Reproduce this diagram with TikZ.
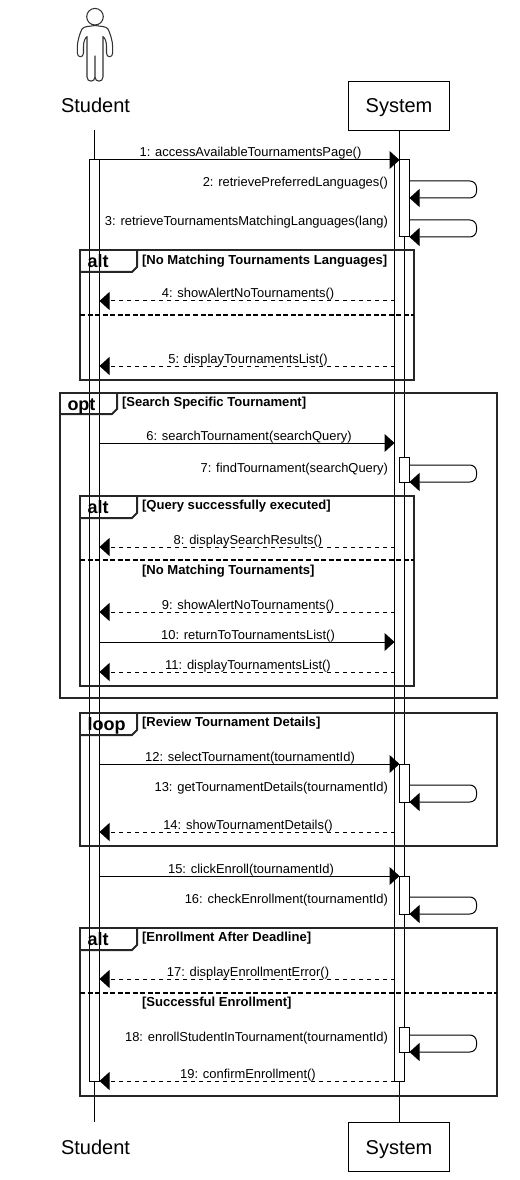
\documentclass[tikz,border=0pt]{standalone}
\usepackage{fontspec}
\setmainfont{Liberation Sans}
\usetikzlibrary{arrows.meta}
\tikzset{
  x=0.75pt,y=-0.75pt,
  every node/.style={inner sep=0pt,outer sep=0pt},
  life/.style={draw=black,line width=0.75pt},
  bar/.style={draw=black,fill=white,line width=0.75pt},
  actorbox/.style={draw=black,line width=0.75pt,fill=white,minimum width=75.75pt,minimum height=36.75pt,text height=14pt,text depth=3.2pt,font=\fontsize{15}{18}\selectfont},
  actorname/.style={font=\fontsize{15}{18}\selectfont},
  msgtext/.style={font=\fontsize{9.7}{12}\selectfont,anchor=base},
  selftext/.style={font=\fontsize{9.7}{12}\selectfont,anchor=base east},
  tip/.style={-{Triangle[length=7.5pt,width=13.5pt]}},
  msg/.style={draw=black,line width=0.75pt,tip},
  ret/.style={draw=black,line width=0.75pt,dash pattern=on 3pt off 3pt,tip},
  selfmsg/.style={draw=black,line width=0.75pt,tip,rounded corners=5pt},
  frame/.style={draw=black!85,line width=1.5pt},
  divider/.style={draw=black,line width=1.5pt,dash pattern=on 3.75pt off 1.9pt},
  tabtext/.style={font=\bfseries\fontsize{13.5}{15}\selectfont,anchor=base west},
  condtext/.style={font=\bfseries\fontsize{9.8}{12}\selectfont,anchor=base west}
}
\begin{document}
\begin{tikzpicture}
\useasboundingbox (0,0) rectangle (520,1180);
% lifelines
\node[actorname] (studentTop) at (95.5,105) {Student};
\node[actorbox] (systemTop) at (399,105.8) {System};
\node[actorname] (studentBot) at (95.5,1147) {Student};
\node[actorbox] (systemBot) at (399,1146.8) {System};
\coordinate (studentStart) at (94.5,130);
\coordinate (studentEnd) at (94.5,1122);
\draw[life] (studentStart) -- (studentEnd);
\draw[life] (systemTop) -- (systemBot);
% actor figure
\draw[draw=black!80,line width=0.8pt] (95,16.7) circle (8.3);
\draw[draw=black!80,line width=0.8pt,line join=round]
  (95,25.5) .. controls (100,26.5) and (106,26) .. (108,29)
  .. controls (110,33) and (112.7,41) .. (112.7,47)
  -- (112.7,53) .. controls (112.7,58) and (106.5,58) .. (106.5,53)
  -- (106.5,46) .. controls (106.5,42) and (105,38) .. (103,36.5)
  -- (103,77) .. controls (103,82.5) and (95,82.5) .. (95,77)
  -- (95,56) -- (95,77)
  .. controls (95,82.5) and (87,82.5) .. (87,77)
  -- (87,36.5) .. controls (85,38) and (83.5,42) .. (83.5,46)
  -- (83.5,53) .. controls (83.5,58) and (77.3,58) .. (77.3,53)
  -- (77.3,47) .. controls (77.3,41) and (80,33) .. (82,29)
  .. controls (84,26) and (90,26.5) .. (95,25.5);
% activation bars
\node[bar,minimum width=7.5pt,minimum height=690.75pt] (actStudent) at (94.5,620.5) {};
\node[bar,minimum width=7.5pt,minimum height=690.75pt] (actSystem) at (399.5,620.5) {};
\foreach \n/\ya/\yb in {a/160/237,b/457/482,c/764/802,d/876/914,e/1027/1052}
  \draw[bar] (399.5,\ya) rectangle (409.5,\yb);
% frames
\foreach \n/\xa/\ya/\xb/\yb/\tx/\ty/\lab in {
  f1/80/250/414/380/137/272/alt,
  f2/60/393/497/698/117/414/opt,
  f3/80/496/414/686/137/518/alt,
  f4/80/713/497/846/137/735/loop,
  f5/80/928/497/1096/137/950/alt}{
  \draw[frame] (\xa,\ya) rectangle (\xb,\yb);
  \draw[frame] (\xa,\ty) -- ({\tx-5},\ty) -- (\tx,{\ty-5}) -- (\tx,\ya);
  \node[tabtext] (tab\n) at ({\xa+7.5},{\ya+17.5}) {\lab};
}
\draw[divider] (80,315) -- (414,315);
\draw[divider] (80,560) -- (414,560);
\draw[divider] (80,993) -- (497,993);
% guards
\node[condtext] (g1) at (142,265) {[No Matching Tournaments Languages]};
\node[condtext] (g2) at (122,406) {[Search Specific Tournament]};
\node[condtext] (g3) at (142,509) {[Query successfully executed]};
\node[condtext] (g4) at (142,574) {[No Matching Tournaments]};
\node[condtext] (g5) at (142,726) {[Review Tournament Details]};
\node[condtext] (g6) at (142,941) {[Enrollment After Deadline]};
\node[condtext] (g7) at (142,1006) {[Successful Enrollment]};
% forward messages
\foreach \n/\y/\xe/\lx/\lab in {
  1/160/399.5/250.5/{1: accessAvailableTournamentsPage()},
  6/443/394.5/249/{6: searchTournament(searchQuery)},
  10/642/394.5/248/{10: returnToTournamentsList()},
  12/764/399.5/250/{12: selectTournament(tournamentId)},
  15/876/399.5/251/{15: clickEnroll(tournamentId)}}{
  \coordinate (fs\n) at (99.5,\y);
  \coordinate (fe\n) at (\xe,\y);
  \draw[msg] (fs\n) -- (fe\n);
  \node[msgtext] (fl\n) at (\lx,{\y-3}) {\lab};
}
% return messages
\foreach \n/\y/\lab in {
  4/301/{4: showAlertNoTournaments()},
  5/366/{5: displayTournamentsList()},
  8/547/{8: displaySearchResults()},
  9/612/{9: showAlertNoTournaments()},
  11/672/{11: displayTournamentsList()},
  14/832/{14: showTournamentDetails()},
  17/979/{17: displayEnrollmentError()},
  19/1081/{19: confirmEnrollment()}}{
  \coordinate (rs\n) at (394.5,\y);
  \coordinate (re\n) at (99.5,\y);
  \draw[ret] (rs\n) -- (re\n);
  \node[msgtext] (rl\n) at (248,{\y-3}) {\lab};
}
% self messages
\foreach \n/\ya/\yb/\ly/\lab in {
  2/181/198/187/{2: retrievePreferredLanguages()},
  3/220/237/225.5/{3: retrieveTournamentsMatchingLanguages(lang)},
  7/465/482/472/{7: findTournament(searchQuery)},
  13/785/802/791.5/{13: getTournamentDetails(tournamentId)},
  16/897/914/903.5/{16: checkEnrollment(tournamentId)},
  18/1035/1052/1041/{18: enrollStudentInTournament(tournamentId)}}{
  \coordinate (ss\n) at (409.5,\ya);
  \coordinate (se\n) at (409.5,\yb);
  \draw[selfmsg] (ss\n) -- (476.5,\ya) -- (476.5,\yb) -- (se\n);
  \node[selftext] (sl\n) at (388,\ly) {\lab};
}
\end{tikzpicture}
\end{document}
